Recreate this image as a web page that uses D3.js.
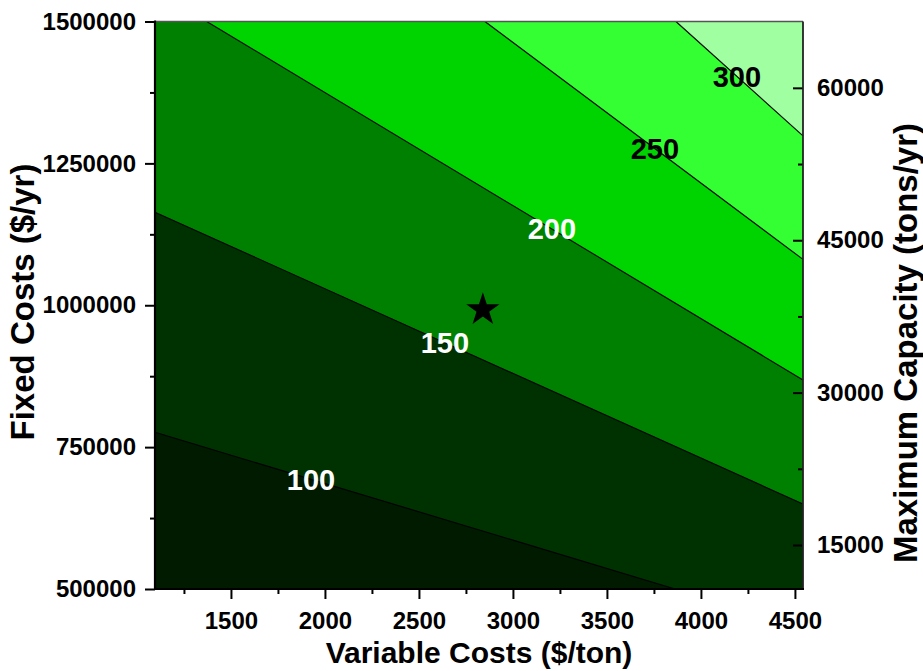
<!DOCTYPE html>
<html>
<head>
<meta charset="utf-8">
<script src="https://cdn.jsdelivr.net/npm/d3@7"></script>
<style>
  body { margin: 0; background: #fff; }
  svg { display: block; }
  text { font-family: "Liberation Sans", Arial, sans-serif; font-weight: bold; }
</style>
</head>
<body>
<svg id="chart" width="923" height="671"></svg>
<script>
// Cost contour levels and the two end points (variable cost, fixed cost) of each level line
const levels = [100, 150, 200, 250, 300];
const lineStartVar = [1096, 1096, 1371, 2851, 3867];
const lineStartFixed = [776200, 1164000, 1500000, 1500000, 1500000];
const lineEndVar = [3862, 4543, 4543, 4543, 4543];
const lineEndFixed = [500000, 649800, 868400, 1080800, 1298500];
// Variable cost at which each level label sits on its line
const labelVar = [1926, 2638, 3207, 3755, 4191];

// Axis ranges and ticks
const varRange = [1096, 4543];
const fixedRange = [500000, 1500000];
const capRange = [10670, 66530];
const varTicks = [1500, 2000, 2500, 3000, 3500, 4000, 4500];
const varMinor = [1250, 1750, 2250, 2750, 3250, 3750, 4250];
const fixedTicks = [500000, 750000, 1000000, 1250000, 1500000];
const fixedMinor = [625000, 875000, 1125000, 1375000];
const capTicks = [15000, 30000, 45000, 60000];
const capMinor = [22500, 37500, 52500];

// Current operating point
const markVar = [2840];
const markFixed = [992000];

const bandColors = ["#001b00", "#003100", "#008000", "#00d400", "#33ff33", "#a0ffa0"];
const labelColors = ["#ffffff", "#ffffff", "#ffffff", "#000000", "#000000"];

const mLeft = 155, mRight = 803, mTop = 21.5, mBottom = 589;
const svg = d3.select("#chart");

const x = d3.scaleLinear().domain(varRange).range([mLeft, mRight]);
const y = d3.scaleLinear().domain(fixedRange).range([mBottom, mTop]);
const yCap = d3.scaleLinear().domain(capRange).range([mBottom, mTop]);

// Filled bands: paint the lowest band, then each level's high side on top
const frameRect = [[mLeft, mTop], [mRight, mTop], [mRight, mBottom], [mLeft, mBottom]];
function clipHalf(poly, a, b, keep) {
  const f = p => (b[0] - a[0]) * (p[1] - a[1]) - (b[1] - a[1]) * (p[0] - a[0]);
  const s = Math.sign(f(keep));
  const out = [];
  for (let i = 0; i < poly.length; i++) {
    const cur = poly[i], prev = poly[(i + poly.length - 1) % poly.length];
    const fc = f(cur) * s, fp = f(prev) * s;
    const cut = () => {
      const t = fp / (fp - fc);
      return [prev[0] + t * (cur[0] - prev[0]), prev[1] + t * (cur[1] - prev[1])];
    };
    if (fc >= 0) { if (fp < 0) out.push(cut()); out.push(cur); }
    else if (fp >= 0) out.push(cut());
  }
  return out;
}

const plot = svg.append("g");
plot.append("rect").attr("x", mLeft).attr("y", mTop)
  .attr("width", mRight - mLeft).attr("height", mBottom - mTop)
  .attr("fill", bandColors[0]);

const lines = levels.map((lv, i) => ({
  level: lv,
  a: [x(lineStartVar[i]), y(lineStartFixed[i])],
  b: [x(lineEndVar[i]), y(lineEndFixed[i])],
  i
}));

plot.selectAll("path.band").data(lines).join("path")
  .attr("class", "band")
  .attr("fill", d => bandColors[d.i + 1])
  .attr("d", d => "M" + clipHalf(frameRect, d.a, d.b, [mRight, mTop]).map(p => p.join(",")).join("L") + "Z");

plot.selectAll("line.level").data(lines).join("line")
  .attr("class", "level")
  .attr("x1", d => d.a[0]).attr("y1", d => d.a[1])
  .attr("x2", d => d.b[0]).attr("y2", d => d.b[1])
  .attr("stroke", "#000").attr("stroke-width", 1.1);

// Level labels placed on their lines
plot.selectAll("text.level").data(lines).join("text")
  .attr("class", "level")
  .attr("x", d => x(labelVar[d.i]))
  .attr("y", d => {
    const t = (labelVar[d.i] - lineStartVar[d.i]) / (lineEndVar[d.i] - lineStartVar[d.i]);
    return y(lineStartFixed[d.i] + t * (lineEndFixed[d.i] - lineStartFixed[d.i]));
  })
  .attr("dy", "0.36em")
  .attr("text-anchor", "middle")
  .attr("font-size", 29)
  .attr("fill", d => labelColors[d.i])
  .text(d => d.level);

// Operating point star
plot.selectAll("path.mark").data(markVar).join("path")
  .attr("class", "mark")
  .attr("d", d3.symbol().type(d3.symbolStar).size(345))
  .attr("transform", (d, i) => `translate(${x(d)},${y(markFixed[i])})`)
  .attr("fill", "#000");

// Axes
function styleAxis(g, size) {
  g.select(".domain").remove();
  g.selectAll(".tick line").attr("stroke", "#000").attr("stroke-width", 2);
  g.selectAll("text").attr("font-size", size).attr("fill", "#000");
}

svg.append("g").attr("transform", `translate(0,${mBottom})`)
  .call(d3.axisBottom(x).tickValues(varTicks).tickSize(10).tickPadding(13).tickFormat(d3.format("d")))
  .call(g => styleAxis(g, 24));
svg.append("g").attr("transform", `translate(0,${mBottom})`)
  .call(d3.axisBottom(x).tickValues(varMinor).tickSize(5).tickFormat(""))
  .call(g => styleAxis(g, 24));

svg.append("g").attr("transform", `translate(${mLeft},0)`)
  .call(d3.axisLeft(y).tickValues(fixedTicks).tickSize(10).tickPadding(9).tickFormat(d3.format("d")))
  .call(g => styleAxis(g, 24));
svg.append("g").attr("transform", `translate(${mLeft},0)`)
  .call(d3.axisLeft(y).tickValues(fixedMinor).tickSize(5).tickFormat(""))
  .call(g => styleAxis(g, 24));

svg.append("g").attr("transform", `translate(${mRight},0)`)
  .call(d3.axisRight(yCap).tickValues(capTicks).tickSize(-10).tickPadding(14).tickFormat(d3.format("d")))
  .call(g => styleAxis(g, 24));
svg.append("g").attr("transform", `translate(${mRight},0)`)
  .call(d3.axisRight(yCap).tickValues(capMinor).tickSize(-5).tickFormat(""))
  .call(g => styleAxis(g, 24));

// Frame
svg.append("line").attr("x1", mLeft).attr("x2", mRight).attr("y1", mTop).attr("y2", mTop)
  .attr("stroke", "#555").attr("stroke-width", 1.5);
svg.append("line").attr("x1", mRight).attr("x2", mRight).attr("y1", mTop).attr("y2", mBottom)
  .attr("stroke", "#222").attr("stroke-width", 1.8);
svg.append("line").attr("x1", mLeft).attr("x2", mLeft).attr("y1", mTop - 1).attr("y2", mBottom + 1)
  .attr("stroke", "#000").attr("stroke-width", 2.2);
svg.append("line").attr("x1", mLeft - 1).attr("x2", mRight + 1).attr("y1", mBottom).attr("y2", mBottom)
  .attr("stroke", "#000").attr("stroke-width", 2.2);

// Axis titles
svg.append("text").attr("x", (mLeft + mRight) / 2).attr("y", 663)
  .attr("text-anchor", "middle").attr("font-size", 30).text("Variable Costs ($/ton)");
svg.append("text").attr("transform", "translate(34,302) rotate(-90)")
  .attr("text-anchor", "middle").attr("font-size", 33).text("Fixed Costs ($/yr)");
svg.append("text").attr("transform", "translate(917,343) rotate(-90)")
  .attr("text-anchor", "middle").attr("font-size", 33).text("Maximum Capacity (tons/yr)");
</script>
</body>
</html>
